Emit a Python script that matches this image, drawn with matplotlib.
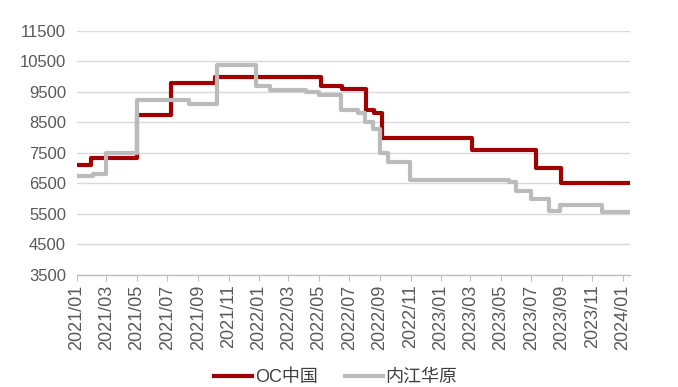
import matplotlib
matplotlib.use("Agg")
import matplotlib.pyplot as plt
import matplotlib.dates as mdates
import pandas as pd

plt.rcParams['font.family'] = ['Liberation Sans', 'Noto Sans CJK SC', 'DejaVu Sans']

# Price change dates and the level in effect from each date (step series)
oc_dates = ["2021-01-01", "2021-01-30", "2021-05-01", "2021-07-08", "2021-10-05",
            "2022-05-05", "2022-06-17", "2022-08-04", "2022-08-20", "2022-09-05",
            "2023-03-04", "2023-07-10", "2023-08-30", "2024-01-15"]
oc_values = [7100, 7350, 8750, 9800, 10000,
             9700, 9600, 8900, 8800, 8000,
             7600, 7000, 6500, 6500]

nj_dates = ["2021-01-01", "2021-02-02", "2021-02-28", "2021-05-01", "2021-08-14",
            "2021-10-09", "2021-12-26", "2022-01-23", "2022-04-05", "2022-05-02",
            "2022-06-14", "2022-07-19", "2022-08-01", "2022-08-17", "2022-08-31",
            "2022-09-17", "2022-10-30", "2023-05-18", "2023-06-01", "2023-07-01",
            "2023-08-05", "2023-08-27", "2023-11-20", "2024-01-15"]
nj_values = [6750, 6800, 7500, 9250, 9100,
             10400, 9700, 9550, 9500, 9400,
             8900, 8800, 8500, 8300, 7500,
             7200, 6600, 6550, 6250, 6000,
             5600, 5800, 5550, 5550]

series_names = ["OC中国", "内江华原"]
y_ticks = list(range(3500, 12500, 1000))

fig = plt.figure(figsize=(6.78, 3.87), dpi=100)
ax = fig.add_axes([0.1136, 0.2894, 0.8154, 0.6306])

ax.step(pd.to_datetime(oc_dates), oc_values, where="post",
        color="#A00000", lw=3.0, label=series_names[0], zorder=3)
ax.step(pd.to_datetime(nj_dates), nj_values, where="post",
        color="#BBBBBB", lw=3.0, label=series_names[1], zorder=4)

ax.set_ylim(3500, 11500)
ax.set_yticks(y_ticks)
ax.set_xlim(pd.Timestamp("2021-01-01"), pd.Timestamp("2024-01-15"))
ax.xaxis.set_major_locator(mdates.MonthLocator(bymonth=[1, 3, 5, 7, 9, 11]))
ax.xaxis.set_major_formatter(mdates.DateFormatter("%Y/%m"))

ax.grid(axis="y", color="#D9D9D9", lw=1.0)
ax.set_axisbelow(True)
for side in ["left", "right", "top"]:
    ax.spines[side].set_visible(False)
ax.spines["bottom"].set_color("#BFBFBF")
ax.spines["bottom"].set_linewidth(1.0)

ax.tick_params(axis="y", length=0, labelsize=12, labelcolor="#595959", pad=8)
ax.tick_params(axis="x", length=4, color="#BFBFBF", labelsize=13,
               labelcolor="#595959", labelrotation=90, pad=3)

fig.legend(loc="center", bbox_to_anchor=(0.495, 0.025), ncol=2, frameon=False,
           fontsize=13, handlelength=2.1, columnspacing=1.5, handletextpad=0.15,
           labelcolor="#404040")

fig.savefig("out.png", dpi=100)
